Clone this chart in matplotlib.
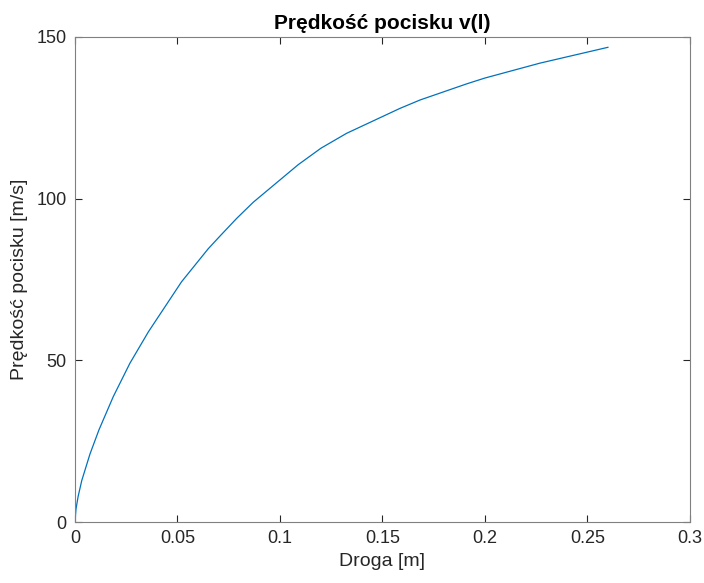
import numpy as np
import matplotlib.pyplot as plt

# droga [m] i prędkość [m/s]
droga = [0.0, 0.0005, 0.0015, 0.0033, 0.0073, 0.0117, 0.0187, 0.0268,
         0.0358, 0.052, 0.065, 0.0707, 0.0789, 0.087, 0.1089, 0.12,
         0.1325, 0.1585, 0.1683, 0.1911, 0.2, 0.2268, 0.26]
predkosc = [0.0, 4.0, 7.8, 12.8, 21.0, 28.5, 38.8, 49.1,
            58.8, 74.3, 84.5, 88.4, 93.9, 98.9, 110.5, 115.6,
            120.2, 127.9, 130.5, 135.5, 137.3, 141.9, 146.8]

x_ticks = [0, 0.05, 0.1, 0.15, 0.2, 0.25, 0.3]
x_labels = ['0', '0.05', '0.1', '0.15', '0.2', '0.25', '0.3']
y_ticks = [0, 50, 100, 150]

plt.rcParams['font.family'] = ['Liberation Sans', 'DejaVu Sans']
kolor_osi = '#262626'

fig = plt.figure(figsize=(7.04, 5.83), dpi=100)
ax = fig.add_axes([0.1065, 0.1046, 0.8735, 0.832])

ax.plot(droga, predkosc, color='#0072BD', linewidth=0.9)

ax.set_xlim(0, 0.3)
ax.set_ylim(0, 150)
ax.set_xticks(x_ticks)
ax.set_xticklabels(x_labels)
ax.set_yticks(y_ticks)

ax.tick_params(direction='in', length=5, width=0.8, top=True, right=True,
               labelsize=13, colors=kolor_osi, pad=6)
for s in ax.spines.values():
    s.set_color('#808080')
    s.set_linewidth(0.8)

ax.set_xlabel('Droga [m]', fontsize=14, color=kolor_osi, labelpad=4)
ax.set_ylabel('Prędkość pocisku [m/s]', fontsize=14, color=kolor_osi, labelpad=6)
ax.set_title('Prędkość pocisku v(l)', fontsize=15, fontweight='bold', color='black', pad=6)

fig.savefig('out.png', dpi=100)
